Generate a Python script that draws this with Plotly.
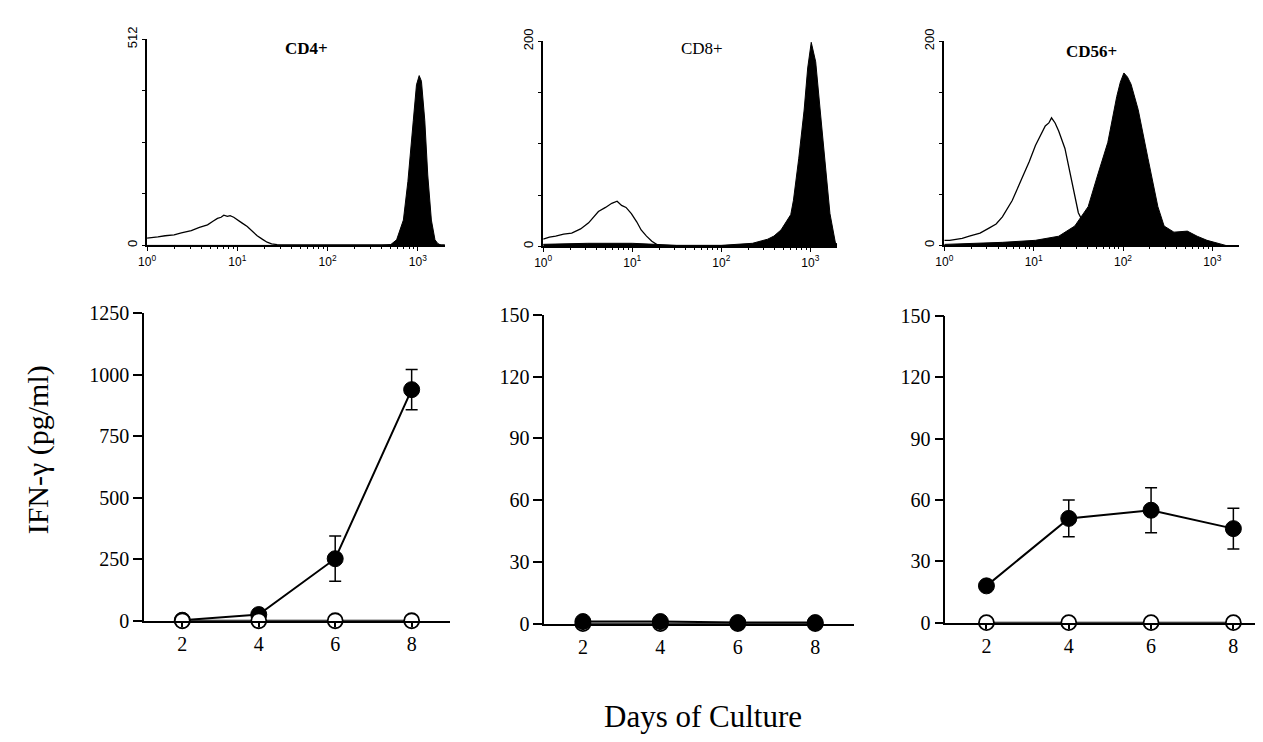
import plotly.graph_objects as go
import numpy as np

W, H = 1263, 742      # target page size
OFF = 8               # default body margin of the page
FW, FH = W - OFF, H - OFF

# ---------------- Data ----------------
# Flow cytometry histograms (x = log10 fluorescence, y = cell counts)
cd4_open_logx = [0.00, 0.05, 0.12, 0.20, 0.30, 0.38, 0.49, 0.58, 0.67, 0.73, 0.78, 0.82, 0.85, 0.89, 0.92, 0.96, 1.00, 1.05, 1.11, 1.16, 1.22, 1.28, 1.33, 1.38, 1.44, 1.60, 2.00, 2.40, 2.70, 3.00, 3.30]
cd4_open_cnt = [18, 20, 21, 24, 26, 31, 37, 45, 51, 60, 67, 70, 75, 72, 74, 70, 63, 56, 47, 36, 24, 15, 8, 4, 2, 1, 1, 2, 1, 1, 1]
cd4_fill_logx = [0.00, 2.60, 2.70, 2.765, 2.84, 2.89, 2.95, 2.985, 3.015, 3.04, 3.077, 3.11, 3.15, 3.19, 3.22, 3.26]
cd4_fill_cnt = [0, 0, 2, 14, 63, 159, 311, 399, 422, 408, 311, 175, 63, 14, 5, 0]

cd8_open_logx = [0.00, 0.07, 0.14, 0.23, 0.32, 0.42, 0.51, 0.58, 0.62, 0.70, 0.77, 0.83, 0.88, 0.93, 0.99, 1.05, 1.10, 1.16, 1.22, 1.29, 1.50, 2.00, 2.50, 3.30]
cd8_open_cnt = [7, 9, 10, 12, 13, 17, 23, 30, 34, 38, 42, 44, 40, 38, 32, 24, 16, 10, 5, 1, 0.5, 0.5, 1, 0.5]
cd8_fill_logx = [0.00, 0.50, 1.00, 1.20, 1.50, 2.00, 2.18, 2.35, 2.52, 2.59, 2.67, 2.74, 2.78, 2.81, 2.87, 2.93, 2.97, 3.01, 3.06, 3.11, 3.17, 3.22, 3.28, 3.30]
cd8_fill_cnt = [2, 3, 3, 2, 1, 1, 2, 3, 7, 10, 16, 26, 31, 45, 86, 133, 174, 199, 180, 133, 76, 32, 4, 2]

cd56_open_logx = [0.00, 0.06, 0.13, 0.20, 0.28, 0.40, 0.50, 0.58, 0.65, 0.76, 0.87, 0.95, 1.02, 1.08, 1.13, 1.17, 1.20, 1.24, 1.28, 1.35, 1.43, 1.50, 1.54]
cd56_open_cnt = [5, 5, 6, 7, 9, 12, 17, 21, 28, 44, 66, 82, 98, 108, 117, 120, 125, 120, 112, 95, 60, 32, 25]
cd56_fill_logx = [0.00, 0.30, 0.65, 1.02, 1.28, 1.46, 1.61, 1.72, 1.83, 1.93, 1.97, 2.01, 2.05, 2.09, 2.17, 2.28, 2.39, 2.46, 2.57, 2.72, 2.83, 2.94, 3.06, 3.15]
cd56_fill_cnt = [1, 2, 3, 5, 9, 19, 38, 70, 101, 146, 160, 169, 165, 158, 133, 85, 38, 19, 13, 14, 9, 5, 2, 0]

hist_titles = ["CD4+", "CD8+", "CD56+"]
hist_title_bold = [True, False, True]
hist_ymax = [512, 200, 200]
hist_xticks = [1, 10, 100, 1000]
hist_xticktext = ["10<sup>0</sup>", "10<sup>1</sup>", "10<sup>2</sup>", "10<sup>3</sup>"]

# IFN-gamma secretion vs days of culture
days = [2, 4, 6, 8]
cd4_stim = [2, 25, 252, 939]
cd4_stim_err = [0, 0, 92, 82]
cd4_ctrl = [0, 0, 0, 0]
cd8_stim = [1, 1, 0.5, 0.5]
cd8_stim_err = [0, 0, 0, 0]
cd8_ctrl = [0, 0, 0, 0]
cd56_stim = [18, 51, 55, 46]
cd56_stim_err = [0, 9, 11, 10]
cd56_ctrl = [0, 0, 0, 0]
ifn_ymax = [1250, 150, 150]
ifn_yticks = [[0, 250, 500, 750, 1000, 1250], [0, 30, 60, 90, 120, 150], [0, 30, 60, 90, 120, 150]]

# ---------------- Layout helpers (page pixels -> paper) ----------------
def dx(x0, x1):
    return [max(0, (x0 - OFF) / FW), min(1, (x1 - OFF) / FW)]

def dy(top, bottom):
    return [max(0, 1 - (bottom - OFF) / FH), min(1, 1 - (top - OFF) / FH)]

def px(x):
    return (x - OFF) / FW

def py(y):
    return 1 - (y - OFF) / FH

SERIF = "Liberation Serif, Times New Roman, serif"
SANS = "Liberation Sans, Arial, sans-serif"

fig = go.Figure()

hist_data = [
    (cd4_open_logx, cd4_open_cnt, cd4_fill_logx, cd4_fill_cnt),
    (cd8_open_logx, cd8_open_cnt, cd8_fill_logx, cd8_fill_cnt),
    (cd56_open_logx, cd56_open_cnt, cd56_fill_logx, cd56_fill_cnt),
]
for i, (ox, oy, fx, fy) in enumerate(hist_data):
    xa = "x" if i == 0 else f"x{i+1}"
    ya = "y" if i == 0 else f"y{i+1}"
    fig.add_trace(go.Scatter(x=10 ** np.array(fx), y=fy, mode="lines", fill="tozeroy",
                             fillcolor="black", line=dict(color="black", width=1),
                             xaxis=xa, yaxis=ya, showlegend=False, hoverinfo="skip"))
    fig.add_trace(go.Scatter(x=10 ** np.array(ox), y=oy, mode="lines",
                             line=dict(color="black", width=1.3),
                             xaxis=xa, yaxis=ya, showlegend=False, hoverinfo="skip"))

line_data = [
    (cd4_stim, cd4_stim_err, cd4_ctrl, "ctrl_top"),
    (cd8_stim, cd8_stim_err, cd8_ctrl, "stim_top"),
    (cd56_stim, cd56_stim_err, cd56_ctrl, "ctrl_top"),
]
for i, (s, e, c, order) in enumerate(line_data):
    xa = f"x{i+4}"
    ya = f"y{i+4}"
    stim = go.Scatter(x=days, y=s, mode="lines+markers",
                      line=dict(color="black", width=2),
                      marker=dict(size=16, color="black", line=dict(color="black", width=1)),
                      error_y=dict(type="data", array=e, symmetric=True, color="black",
                                   thickness=1.5, width=6, visible=True),
                      cliponaxis=False, xaxis=xa, yaxis=ya, showlegend=False)
    ctrl = go.Scatter(x=days, y=c, mode="lines+markers",
                      line=dict(color="black", width=2),
                      marker=dict(size=15, color="white", line=dict(color="black", width=1.8)),
                      cliponaxis=False, xaxis=xa, yaxis=ya, showlegend=False)
    if order == "ctrl_top":
        fig.add_trace(stim)
        fig.add_trace(ctrl)
    else:
        fig.add_trace(ctrl)
        fig.add_trace(stim)

# ---------------- Axes ----------------
hist_x_dom = [(139, 439), (538, 834), (942, 1239)]
hist_y_dom = [(27, 240), (29, 241), (29, 240)]
minor_vals = [m * 10 ** d for d in range(4) for m in range(2, 10) if m * 10 ** d <= 2000]

layout = dict(width=FW, height=FH, autosize=False,
              margin=dict(l=0, r=0, t=0, b=0),
              paper_bgcolor="white", plot_bgcolor="white", showlegend=False)

for i in range(3):
    k = "" if i == 0 else str(i + 1)
    ymax = hist_ymax[i]
    layout[f"xaxis{k}"] = dict(
        domain=dx(*hist_x_dom[i]), anchor=f"y{k}" if k else "y",
        type="log", range=[0, 3.3],
        tickmode="array", tickvals=hist_xticks, ticktext=hist_xticktext,
        ticks="outside", ticklen=4, tickwidth=1, tickcolor="black",
        minor=dict(tickmode="array", tickvals=minor_vals, ticks="outside", ticklen=2,
                   tickwidth=1, tickcolor="black", showgrid=False),
        showline=True, linecolor="black", linewidth=1.5,
        showgrid=False, zeroline=False,
        tickfont=dict(family=SANS, size=12, color="black"))
    layout[f"yaxis{k}"] = dict(
        domain=dy(*hist_y_dom[i]), anchor=f"x{k}" if k else "x",
        range=[0, ymax],
        tickmode="array", tickvals=[0, ymax], ticktext=["0", str(ymax)], tickangle=-90,
        ticks="outside", ticklen=3, tickwidth=1, tickcolor="black",
        minor=dict(tickmode="array", tickvals=[ymax / 4, ymax / 2, 3 * ymax / 4],
                   ticks="outside", ticklen=3, tickwidth=1, tickcolor="black", showgrid=False),
        showline=True, linecolor="black", linewidth=2,
        showgrid=False, zeroline=False,
        tickfont=dict(family=SANS, size=13, color="black"))

line_x_dom = [(136, 444), (539, 851), (943, 1263)]
line_x_rng = [[1, 9], [1, 9], [1, 8.72]]
line_y_dom = [(310, 628), (312, 631), (313, 630)]
for i in range(3):
    k = str(i + 4)
    layout[f"xaxis{k}"] = dict(
        domain=dx(*line_x_dom[i]), anchor=f"y{k}", range=line_x_rng[i],
        tickmode="array", tickvals=days, ticks="outside", ticklen=5, tickwidth=1.5,
        tickcolor="black", showline=True, linecolor="black", linewidth=1.5,
        showgrid=False, zeroline=False,
        tickfont=dict(family=SERIF, size=20, color="black"))
    layout[f"yaxis{k}"] = dict(
        domain=dy(*line_y_dom[i]), anchor=f"x{k}", range=[0, ifn_ymax[i]],
        tickmode="array", tickvals=ifn_yticks[i], ticks="outside", ticklen=9,
        tickwidth=1.5, tickcolor="black", showline=True, linecolor="black", linewidth=1.5,
        showgrid=False, zeroline=False,
        tickfont=dict(family=SERIF, size=20, color="black"))

fig.update_layout(**layout)

# ---------------- Text ----------------
title_pos = [(300, 36), (698, 36), (1090, 40)]
for i, t in enumerate(hist_titles):
    txt = f"<b>{t}</b>" if hist_title_bold[i] else t
    fig.add_annotation(x=px(title_pos[i][0]), y=py(title_pos[i][1]), xref="paper", yref="paper",
                       text=txt, showarrow=False, xanchor="center", yanchor="middle",
                       font=dict(family=SERIF, size=17, color="black"))

fig.add_annotation(x=px(29), y=py(451), xref="paper", yref="paper", text="IFN-γ (pg/ml)",
                   textangle=-90, showarrow=False, xanchor="center", yanchor="middle",
                   font=dict(family=SERIF, size=30, color="black"))
fig.add_annotation(x=px(699), y=py(727), xref="paper", yref="paper", text="Days of Culture",
                   showarrow=False, xanchor="center", yanchor="middle",
                   font=dict(family=SERIF, size=31, color="black"))

fig.write_html("out.html")
